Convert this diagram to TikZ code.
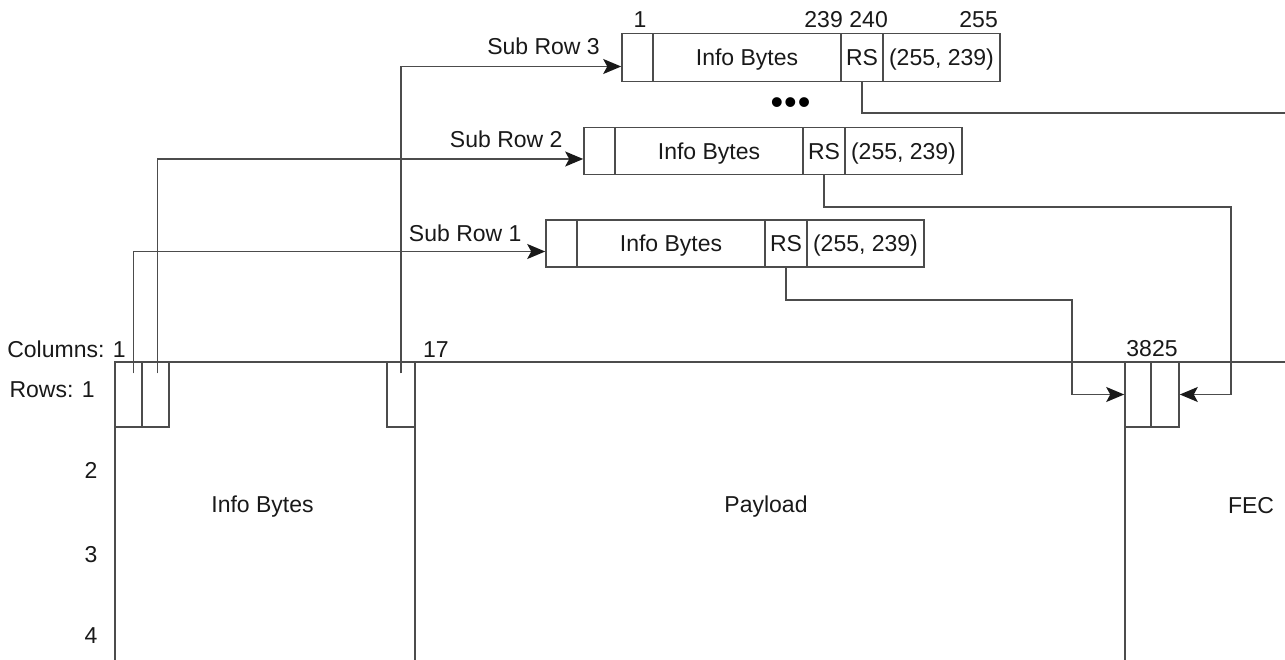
\documentclass[tikz,border=0pt]{standalone}
\usepackage{fontspec}
\setmainfont{Liberation Sans}
\usetikzlibrary{arrows.meta}
\newcommand\diagfont{\fontsize{23pt}{27pt}\selectfont}
\begin{document}
\begin{tikzpicture}[x=1pt,y=-1pt,
  line/.style={draw=black!70, line width=1.6pt},
  conn/.style={line, -{Stealth[length=18pt,width=15pt,inset=4pt,color=black!90]}},
  cell/.style={line, minimum height=47pt, inner sep=0pt, text height=17pt, text depth=0pt, font=\diagfont, text=black!90},
  fcell/.style={line, minimum height=65pt, inner sep=0pt},
  lbl/.style={inner sep=0pt, font=\diagfont, text=black!90},
]
\fill[white] (0,0) rectangle (1285,660);
\useasboundingbox (0,0) rectangle (1285,660);

% frame
\draw[line] (115,362) -- (1285,362);
\draw[line] (115,362) -- (115,660);
\draw[line] (415,362) -- (415,660);
\draw[line] (1125,362) -- (1125,660);

\node[fcell, minimum width=27pt] (c1a) at (128.5,394.5) {};
\node[fcell, minimum width=27pt] (c1b) at (155.5,394.5) {};
\node[fcell, minimum width=28pt] (c17) at (401,394.5) {};
\node[fcell, minimum width=26pt] (f1) at (1138,394.5) {};
\node[fcell, minimum width=28pt] (f2) at (1165,394.5) {};

% sub row 1
\node[cell, minimum width=31pt]  (s1a) at (561.5,243.5) {};
\node[cell, minimum width=188pt] (s1b) at (671,243.5) {Info Bytes};
\node[cell, minimum width=42pt]  (s1c) at (786,243.5) {RS};
\node[cell, minimum width=117pt] (s1d) at (865.5,243.5) {(255, 239)};
% sub row 2
\node[cell, minimum width=31pt]  (s2a) at (599.5,151) {};
\node[cell, minimum width=188pt] (s2b) at (709,151) {Info Bytes};
\node[cell, minimum width=42pt]  (s2c) at (824,151) {RS};
\node[cell, minimum width=117pt] (s2d) at (903.5,151) {(255, 239)};
% sub row 3
\node[cell, minimum height=48pt, minimum width=31pt]  (s3a) at (637.5,57.5) {};
\node[cell, minimum height=48pt, minimum width=188pt] (s3b) at (747,57.5) {Info Bytes};
\node[cell, minimum height=48pt, minimum width=42pt]  (s3c) at (862,57.5) {RS};
\node[cell, minimum height=48pt, minimum width=117pt] (s3d) at (941.5,57.5) {(255, 239)};

% labels
\node[lbl, anchor=base] (n1) at (640,28) {1};
\node[lbl, anchor=base east] (n239) at (843,28) {239};
\node[lbl, anchor=base east] (n240) at (888,28) {240};
\node[lbl, anchor=base east] (n255) at (998,28) {255};
\node[lbl, font=\fontsize{36pt}{40pt}\selectfont, text=black] (dots) at (790.5,106) {•\kern1pt•\kern1pt•};
\node[lbl, anchor=base east] (sr3) at (600,55) {Sub Row 3};
\node[lbl, anchor=base east] (sr2) at (562.7,148) {Sub Row 2};
\node[lbl, anchor=base east] (sr1) at (521.7,241.7) {Sub Row 1};
\node[lbl, anchor=base east] (cols) at (126,357) {Columns: 1};
\node[lbl, anchor=base west] (c17l) at (423,357) {17};
\node[lbl, anchor=base] (c3825) at (1152,356) {3825};
\node[lbl, anchor=base east] (rows) at (95,397) {Rows: 1};
\node[lbl, anchor=base] (r2) at (91,478) {2};
\node[lbl, anchor=base] (r3) at (91,562) {3};
\node[lbl, anchor=base] (r4) at (91,643) {4};
\node[lbl, anchor=base] (ib) at (262.5,512) {Info Bytes};
\node[lbl, anchor=base] (pl) at (766,512) {Payload};
\node[lbl, anchor=base] (fec) at (1251,513) {FEC};

% connector points
\coordinate (p1) at (133.3,373.3);
\coordinate (p2) at (157.3,373.3);
\coordinate (p17) at (400.7,373.3);
\coordinate (b1) at (1071.7,300);
\coordinate (b2) at (1231,207);
\coordinate (b3) at (1285,113);

\draw[conn] (p1) |- ([yshift=-8pt]s1a.west);
\draw[conn] (p2) |- ([yshift=-8pt]s2a.west);
\draw[conn] (p17) |- ([yshift=-9pt]s3a.west);

\draw[conn] (s1c.south) |- (b1) |- (f1.west);
\draw[conn] (s2c.south) |- (b2) |- (f2.east);
\draw[line] (s3c.south) |- (b3);
\end{tikzpicture}
\end{document}
